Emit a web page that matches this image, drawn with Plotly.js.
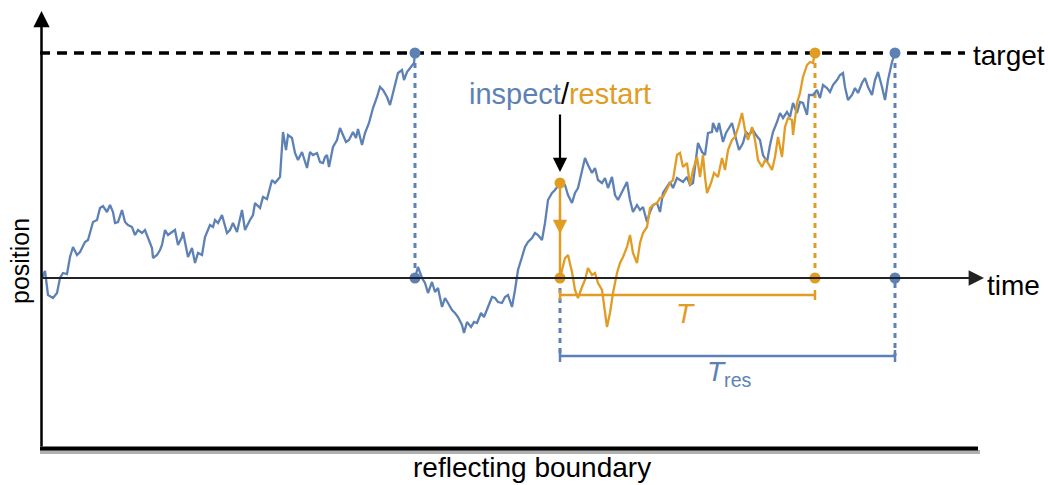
<!DOCTYPE html>
<html>
<head>
<meta charset="utf-8">
<script src="https://cdn.plot.ly/plotly-3.0.1.min.js"></script>
<style>html,body{margin:0;padding:0;background:#fff;}#chart{width:1050px;height:485px;}</style>
</head>
<body>
<div id="chart"></div>
<script>
// ---------- data (time, position) ----------
const blueT1 = [2,5,8,13,17,20,23,27,30,33,37,40,45,48,53,57,60,63,67,70,73,75,78,82,85,88,92,95,98,102,105,108,112,113,117,120,122,125,128,132,135,138,142,143,148,152,155,158,162,165,170,173,175,178,182,187,190,193,197,202,205,210,213,215,220,223,227,232,235,240,243,246,248,252,255,258,262,267,270,273,277,280,283,285,287,289,293,297,300,303,306,309,313,316,318,322,325,329,333,337,340,343,347,350,353,358,362,364,367,371,374,375];
const bluePos1 = [0,7,-17,-20,-15,0,5,4,21,31,23,26,36,38,56,58,70,72,66,73,66,55,56,68,56,53,51,43,48,45,48,40,30,20,23,28,33,48,43,46,48,33,41,46,21,30,15,25,23,41,53,51,58,55,63,45,48,55,46,68,48,58,63,75,70,81,79,98,95,101,146,128,143,140,125,118,126,110,126,123,125,116,115,121,123,111,131,138,150,143,136,138,146,140,149,133,145,155,170,181,191,188,181,173,185,205,208,198,206,211,215,225];

const blueT2 = [375,378,382,385,388,392,395,398,402,405,408,412,415,418,422,424,427,431,434,437,441,444,448,452,455,458,462,465,468,472,475,478,482,485,488,492,495,498,502,505,508,512,515,518,520,525,528,532,535,538,542,545,548,552,555,558,562,565,568,572,575,578,582,587,590,593,597,600,603,607,610,613,617,620,623,627,630,633,637,640,643,647,650,653,657,658,662,665,668,672,673,677,679,683,686,688,692,695,699,703,706,709,713,716,720,723,727,730,733,737,740,743,747,750,753,757,760,763,767,769,773,777,780,783,787,790,793,797,800,803,805,808,812,815,818,822,825,828,832,835,838,842,845,848,852,855];
const bluePos2 = [0,11,0,-5,-15,-4,-14,-10,-29,-20,-25,-32,-35,-39,-47,-55,-44,-49,-44,-45,-35,-39,-29,-19,-20,-24,-25,-19,-17,-29,-12,8,21,31,36,40,45,43,38,55,78,85,88,93,95,93,83,75,85,90,108,120,113,105,110,98,95,100,90,101,83,78,86,96,78,66,73,68,71,56,66,73,75,66,85,91,96,90,100,98,96,101,93,95,128,135,126,123,145,146,155,146,155,136,145,148,155,143,128,135,146,143,148,143,138,123,116,133,146,156,165,160,166,161,175,165,176,175,163,183,183,188,180,193,190,186,193,198,203,205,191,178,183,190,185,195,200,191,183,198,206,191,178,198,216,225];

const orangeT = [520,525,528,532,535,538,542,545,548,552,555,558,562,565,567,570,573,577,580,583,587,590,593,597,600,603,607,610,613,617,620,623,627,630,633,637,640,643,647,650,653,657,660,663,665,667,671,674,678,682,685,688,692,695,698,702,705,708,712,715,718,722,725,728,732,735,738,742,745,748,752,753,757,760,763,767,770,773,775];
const orangePos = [0,20,23,6,-12,-20,-9,-2,10,3,5,-5,-12,-35,-49,-35,-15,5,15,21,31,43,25,15,35,45,51,70,73,75,80,81,90,95,98,123,125,111,115,93,108,121,101,123,101,85,95,105,101,120,108,128,138,141,150,165,148,138,151,138,118,111,118,115,108,121,141,121,151,160,158,143,175,185,201,213,216,215,225];

// key events
const targetLevel = 225;
const firstHitTime = 375;
const inspectTime = 520;
const inspectPos = 95;
const restartHitTime = 775;
const residualHitTime = 855;

// labels
const labelTarget = 'target';
const labelTime = 'time';
const labelPosition = 'position';
const labelBoundary = 'reflecting boundary';
const labelInspect = 'inspect';
const labelRestart = 'restart';

// ---------- styling ----------
const BLUE = '#5E81B5';
const ORANGE = '#E19C24';
const FONT = 'Liberation Sans, Arial, sans-serif';
const boundaryPos = -170;
const axisTip = 267;
const timeTip = 944;
const targetEnd = 925;
const tBracket = -17;
const tresBracket = -78;
const tick = 5;

const traces = [];
// boundary
traces.push({x:[0,940],y:[boundaryPos-4,boundaryPos-4],mode:'lines',line:{color:'#b0b0b0',width:4},hoverinfo:'skip'});
traces.push({x:[0,938],y:[boundaryPos-0.5,boundaryPos-0.5],mode:'lines',line:{color:'#000',width:4},hoverinfo:'skip'});
// target dashed line
traces.push({x:[0,targetEnd],y:[targetLevel,targetLevel],mode:'lines',line:{color:'#000',width:3.5,dash:'10px,7px'},hoverinfo:'skip'});
// dotted verticals
traces.push({x:[firstHitTime,firstHitTime,null,residualHitTime,residualHitTime,null,inspectTime,inspectTime],
             y:[targetLevel,0,null,targetLevel,tresBracket,null,0,tresBracket],
             mode:'lines',line:{color:BLUE,width:3,dash:'5px,5px'},hoverinfo:'skip'});
traces.push({x:[restartHitTime,restartHitTime],y:[targetLevel,0],mode:'lines',line:{color:ORANGE,width:3,dash:'5px,5px'},hoverinfo:'skip'});
// brackets
traces.push({x:[inspectTime,inspectTime,null,inspectTime,restartHitTime,null,restartHitTime,restartHitTime],
             y:[tBracket+tick,tBracket-tick,null,tBracket,tBracket,null,tBracket+tick,tBracket-tick],
             mode:'lines',line:{color:ORANGE,width:2.5},hoverinfo:'skip'});
traces.push({x:[inspectTime,inspectTime,null,inspectTime,residualHitTime,null,residualHitTime,residualHitTime],
             y:[tresBracket+tick+1,tresBracket-tick-1,null,tresBracket,tresBracket,null,tresBracket+tick+1,tresBracket-tick-1],
             mode:'lines',line:{color:BLUE,width:2.5},hoverinfo:'skip'});
// walks
traces.push({x:blueT1,y:bluePos1,mode:'lines',line:{color:BLUE,width:2.3},hoverinfo:'skip'});
traces.push({x:blueT2,y:bluePos2,mode:'lines',line:{color:BLUE,width:2.3},hoverinfo:'skip'});
traces.push({x:orangeT,y:orangePos,mode:'lines',line:{color:ORANGE,width:2.3},hoverinfo:'skip'});
// restart drop
traces.push({x:[inspectTime,inspectTime],y:[inspectPos,0],mode:'lines',line:{color:ORANGE,width:2.5},hoverinfo:'skip'});
// markers
traces.push({x:[firstHitTime,firstHitTime,residualHitTime,residualHitTime],y:[targetLevel,0,targetLevel,0],mode:'markers',marker:{color:BLUE,size:11},hoverinfo:'skip'});
traces.push({x:[inspectTime,inspectTime,restartHitTime,restartHitTime],y:[inspectPos,0,targetLevel,0],mode:'markers',marker:{color:ORANGE,size:11},hoverinfo:'skip'});

const annotations = [
  // vertical axis
  {x:1.5,y:axisTip,ax:1.5,ay:boundaryPos,xref:'x',yref:'y',axref:'x',ayref:'y',text:'',showarrow:true,arrowhead:2,arrowsize:1.3,arrowwidth:2.5,arrowcolor:'#000'},
  // time axis
  {x:timeTip,y:0,ax:0,ay:0,xref:'x',yref:'y',axref:'x',ayref:'y',text:'',showarrow:true,arrowhead:2,arrowsize:1.4,arrowwidth:2.2,arrowcolor:'#222'},
  // inspect arrow
  {x:inspectTime,y:106,ax:inspectTime,ay:165,xref:'x',yref:'y',axref:'x',ayref:'y',text:'',showarrow:true,arrowhead:2,arrowsize:1.3,arrowwidth:2.2,arrowcolor:'#000'},
  // restart mid-arrow
  {x:inspectTime,y:44,ax:inspectTime,ay:70,xref:'x',yref:'y',axref:'x',ayref:'y',text:'',showarrow:true,arrowhead:2,arrowsize:1.3,arrowwidth:2.2,arrowcolor:ORANGE},
  // labels
  {x:inspectTime,y:184,xref:'x',yref:'y',showarrow:false,xanchor:'center',yanchor:'middle',
   text:'<span style="color:'+BLUE+'">'+labelInspect+'</span>/<span style="color:'+ORANGE+'">'+labelRestart+'</span>',font:{family:FONT,size:29,color:'#000'}},
  {x:931,y:223,xref:'x',yref:'y',showarrow:false,xanchor:'left',yanchor:'middle',text:labelTarget,font:{family:FONT,size:28,color:'#000'}},
  {x:945,y:-7,xref:'x',yref:'y',showarrow:false,xanchor:'left',yanchor:'middle',text:labelTime,font:{family:FONT,size:28,color:'#000'}},
  {x:-20,y:17,xref:'x',yref:'y',showarrow:false,xanchor:'center',yanchor:'middle',textangle:-90,text:labelPosition,font:{family:FONT,size:25,color:'#000'}},
  {x:492,y:-189,xref:'x',yref:'y',showarrow:false,xanchor:'center',yanchor:'middle',text:labelBoundary,font:{family:FONT,size:28,color:'#000'}},
  {x:645,y:-35,xref:'x',yref:'y',showarrow:false,xanchor:'center',yanchor:'middle',text:'<i>T</i>',font:{family:FONT,size:28,color:ORANGE}},
  {x:689,y:-95,xref:'x',yref:'y',showarrow:false,xanchor:'center',yanchor:'middle',text:'<i>T</i><sub>res</sub>',font:{family:FONT,size:28,color:BLUE}}
];

const layout = {
  width:1050,height:485,
  margin:{l:0,r:0,t:0,b:0},
  paper_bgcolor:'#fff',plot_bgcolor:'#fff',
  showlegend:false,
  xaxis:{range:[-40,1010],visible:false,fixedrange:true},
  yaxis:{range:[-207,278],visible:false,fixedrange:true},
  annotations:annotations
};

Plotly.newPlot('chart',traces,layout,{staticPlot:true,displayModeBar:false});
</script>
</body>
</html>
